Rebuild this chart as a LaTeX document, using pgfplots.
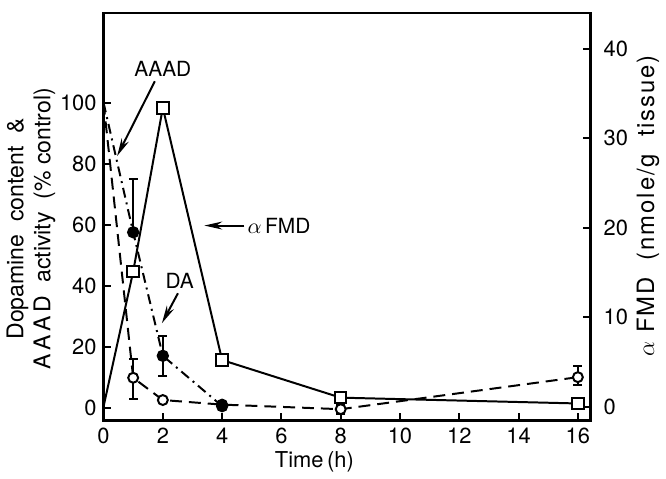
\documentclass[border=0pt]{standalone}
\usepackage{pgfplots}
\pgfplotsset{compat=1.18}
\usepackage{fontspec}
\setmainfont{TeX Gyre Heros}
\setsansfont{TeX Gyre Heros}
\newfontfamily\widefont[LetterSpace=8]{TeX Gyre Heros}
\usetikzlibrary{arrows.meta}

\begin{document}
\begin{tikzpicture}[>={Stealth[length=9pt,width=4pt]}]
\pgfplotsset{
  every axis/.append style={
    scale only axis, width=245pt, height=205pt,
    xmin=0, xmax=16.43,
    axis line style={line width=1.2pt},
    tick style={line width=1pt, black},
    tick align=inside,
    major tick length=4pt,
    /pgf/number format/assume math mode=true,
    tick label style={font=\fontsize{11}{13}\selectfont},
    label style={font=\fontsize{11}{13}\selectfont},
  },
}
\begin{axis}[
  name=ax,
  ymin=-4.2, ymax=129.4,
  xtick={0,2,...,16},
  ytick={0,20,...,100},
  xtick pos=bottom, ytick pos=left,
  xlabel={Time\,(h)},
  xlabel style={at={(axis description cs:0.433,-0.102)}, anchor=center},
  ylabel={Dopamine\ \ content\ \ \&\\A\,A\,A\,D\ \ activity\ \ (\%\ control)},
  ylabel style={align=center, at={(axis description cs:-0.149,0.47)}, rotate=0, anchor=center,
    font=\fontsize{11.6}{13.5}\selectfont},
]
% error bars first
\addplot[draw=none, mark=none, error bars/.cd, y dir=both, y explicit,
  error bar style={line width=1pt, black},
  error mark options={rotate=90, mark size=2.2pt, line width=1pt, black}]
  coordinates {(1,9.5) +- (0,6.5) (8,-0.5) +- (0,1.5) (16,10.5) +- (0,3) (2,17) +- (0,6.6)};
\addplot[draw=none, mark=none, error bars/.cd, y dir=plus, y explicit,
  error bar style={line width=1pt, black},
  error mark options={rotate=90, mark size=2.2pt, line width=1pt, black}]
  coordinates {(1,57.5) +- (0,17.5)};
% DA, open circles, dashed
\addplot[black, line width=1pt, dash pattern=on 6pt off 3.5pt, mark=*, mark size=2.5pt,
  mark options={solid, fill=white, line width=1pt}, mark indices={2,3,4,5,6}]
  coordinates {(0,100) (1,9.8) (2,2.5) (4,1) (8,-0.5) (16,10)};
% AAAD, filled circles, dash-dot
\addplot[black, line width=1pt, dash pattern=on 5pt off 2.5pt on 1pt off 2.5pt, mark=*, mark size=2.6pt,
  mark options={solid, fill=black}, mark indices={2,3,4}]
  coordinates {(0,100) (1,57.5) (2,17) (4,0.5)};
% annotations
\node[font=\fontsize{10.5}{12}\selectfont] at (axis cs:2.0,110.9) {AAAD};
\draw[->, line width=1pt] (axis cs:1.73,107) -- (axis cs:0.46,82.5);
\node[anchor=west, font=\fontsize{10.5}{12}\selectfont, inner sep=0pt] at (axis cs:4.85,59.7) {$\alpha$\,FMD};
\draw[->, line width=1pt] (axis cs:4.75,59.7) -- (axis cs:3.4,59.7);
\node[font=\fontsize{10.5}{12}\selectfont] at (axis cs:2.57,41.7) {DA};
\draw[->, line width=1pt] (axis cs:2.51,37.5) -- (axis cs:1.97,27.7);
\end{axis}
\begin{axis}[
  ymin=-1.55, ymax=44,
  axis y line*=right, axis x line=none,
  ytick={0,10,...,40},
  yticklabel style={xshift=3pt},
  ylabel={\widefont$\alpha$\ FMD\ \ (nmole/g\ \ tissue)},
  ylabel style={at={(axis description cs:1.118,0.527)}, rotate=0, anchor=center,
    font=\fontsize{12}{14}\selectfont},
]
% alpha-FMD, open squares, solid
\addplot[black, line width=1pt, mark=square*, mark size=2.9pt,
  mark options={fill=white}, mark indices={2,3,4,5,6}]
  coordinates {(0,0) (1,15.1) (2,33.4) (4,5.2) (8,1.0) (16,0.35)};
\end{axis}
\path (ax.north west) ++(0,6.5pt);
\end{tikzpicture}
\end{document}
